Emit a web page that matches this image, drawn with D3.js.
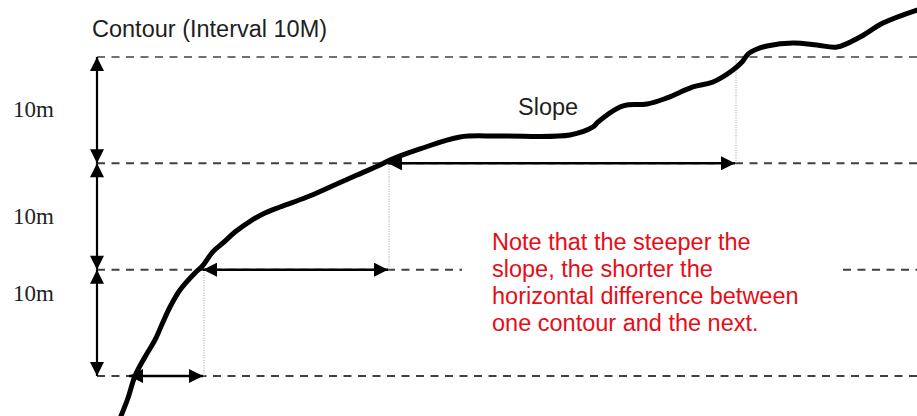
<!DOCTYPE html>
<html>
<head>
<meta charset="utf-8">
<script src="https://cdn.jsdelivr.net/npm/d3@7"></script>
<style>
  html, body { margin: 0; padding: 0; background: #fff; }
  svg { display: block; }
</style>
</head>
<body>
<svg id="chart" width="917" height="416"></svg>
<script>
// ---- data ----
const contourLevels = [0, 10, 20, 30];            // elevation (m) of each contour
const crossingDist = [32, 106, 291, 638];          // horizontal distance where profile meets each contour
const profileDist = [24, 31, 38, 48, 58, 66, 73, 83, 98, 105, 116, 126, 138, 155, 168, 183, 210, 233, 260, 283, 293, 323, 363, 403, 473, 496, 501, 523, 530, 550, 570, 596, 616, 636, 645, 651, 660, 670, 696, 720, 740, 763, 786, 820];
const profileElev = [-3.76, -2.07, 0, 1.79, 3.39, 5.08, 6.49, 8.09, 9.69, 10.3, 11.7, 12.51, 13.54, 14.67, 15.33, 15.89, 16.83, 17.77, 18.9, 19.84, 20.31, 21.35, 22.48, 22.57, 22.67, 23.42, 23.89, 25.3, 25.49, 25.58, 26.15, 27.18, 27.65, 28.78, 29.53, 30.28, 30.75, 31.04, 31.32, 31.13, 30.94, 31.88, 33.2, 34.42];
const intervalLabels = ["10m", "10m", "10m"];
const titleText = "Contour (Interval 10M)";
const slopeText = "Slope";
const noteLines = [
  "Note that the steeper the",
  "slope, the shorter the",
  "horizontal difference between",
  "one contour and the next."
];

// ---- scales ----
const svg = d3.select("#chart");
const x = d3.scaleLinear().domain([0, 820]).range([97, 917]);
const y = d3.scaleLinear().domain([0, 30]).range([376, 57]);

const sans = "'Liberation Sans', Arial, Helvetica, sans-serif";
const serif = "'Liberation Serif', 'Times New Roman', serif";

// arrow marker
const defs = svg.append("defs");
defs.append("marker")
  .attr("id", "head")
  .attr("viewBox", "0 0 14 14")
  .attr("refX", 14).attr("refY", 7)
  .attr("markerWidth", 15).attr("markerHeight", 14)
  .attr("markerUnits", "userSpaceOnUse")
  .attr("orient", "auto-start-reverse")
  .append("path").attr("d", "M0,0 L14,7 L0,14 Z").attr("fill", "#000");

// ---- dashed contour lines ----
const gapLevel = 10, gapStart = 365, gapEnd = 746; // break of the 10 m line behind the note
const segs = [];
contourLevels.forEach(l => {
  if (l === gapLevel) {
    segs.push({l, a: 0, b: gapStart});
    segs.push({l, a: gapEnd, b: 820});
  } else segs.push({l, a: 0, b: 820});
});
svg.append("g").selectAll("line").data(segs).join("line")
  .attr("x1", d => x(d.a)).attr("x2", d => x(d.b))
  .attr("y1", d => y(d.l)).attr("y2", d => y(d.l))
  .attr("stroke", d => d.l === 30 ? "#707070" : "#404040")
  .attr("stroke-width", 2)
  .attr("stroke-dasharray", "8,6.5");

// ---- dotted verticals ----
svg.append("g").selectAll("line").data(d3.range(3)).join("line")
  .attr("x1", i => x(crossingDist[i + 1]) + 1).attr("x2", i => x(crossingDist[i + 1]) + 1)
  .attr("y1", i => y(contourLevels[i])).attr("y2", i => y(contourLevels[i + 1]))
  .attr("stroke", "#9a9a9a").attr("stroke-width", 1)
  .attr("stroke-dasharray", "1,1.5");

// ---- vertical interval arrows ----
svg.append("g").selectAll("line").data(d3.range(3)).join("line")
  .attr("x1", x(0)).attr("x2", x(0))
  .attr("y1", i => y(contourLevels[i])).attr("y2", i => y(contourLevels[i + 1]))
  .attr("stroke", "#000").attr("stroke-width", 2.2)
  .attr("marker-start", "url(#head)").attr("marker-end", "url(#head)");

// ---- horizontal distance arrows ----
svg.append("g").selectAll("line").data(d3.range(3)).join("line")
  .attr("x1", i => x(crossingDist[i])).attr("x2", i => x(crossingDist[i + 1]))
  .attr("y1", i => y(contourLevels[i])).attr("y2", i => y(contourLevels[i]))
  .attr("stroke", "#000").attr("stroke-width", 2.5)
  .attr("marker-start", "url(#head)").attr("marker-end", "url(#head)");

// ---- profile line ----
const profile = profileDist.map((d, i) => [d, profileElev[i]]);
svg.append("path")
  .datum(profile)
  .attr("d", d3.line().x(d => x(d[0])).y(d => y(d[1])).curve(d3.curveCatmullRom.alpha(0.5)))
  .attr("fill", "none").attr("stroke", "#000").attr("stroke-width", 5)
  .attr("stroke-linejoin", "round").attr("stroke-linecap", "round");

// ---- texts ----
svg.append("text").text(titleText)
  .attr("x", 92).attr("y", 37)
  .attr("font-family", sans).attr("font-size", 23.5).attr("fill", "#1e1e1e");

const labelBase = [y(25) + 7, y(15) + 7, y(7.7) + 7];
svg.append("g").selectAll("text").data(intervalLabels).join("text")
  .text(d => d)
  .attr("x", 13).attr("y", (d, i) => labelBase[i])
  .attr("font-family", serif).attr("font-size", 23).attr("fill", "#222");

svg.append("text").text(slopeText)
  .attr("x", 518).attr("y", 115)
  .attr("font-family", sans).attr("font-size", 23.5).attr("fill", "#1e1e1e");

svg.append("g").selectAll("text").data(noteLines).join("text")
  .text(d => d)
  .attr("x", 492).attr("y", (d, i) => 250 + i * 27)
  .attr("font-family", sans).attr("font-size", 23.5).attr("fill", "#e60d17");
</script>
</body>
</html>
